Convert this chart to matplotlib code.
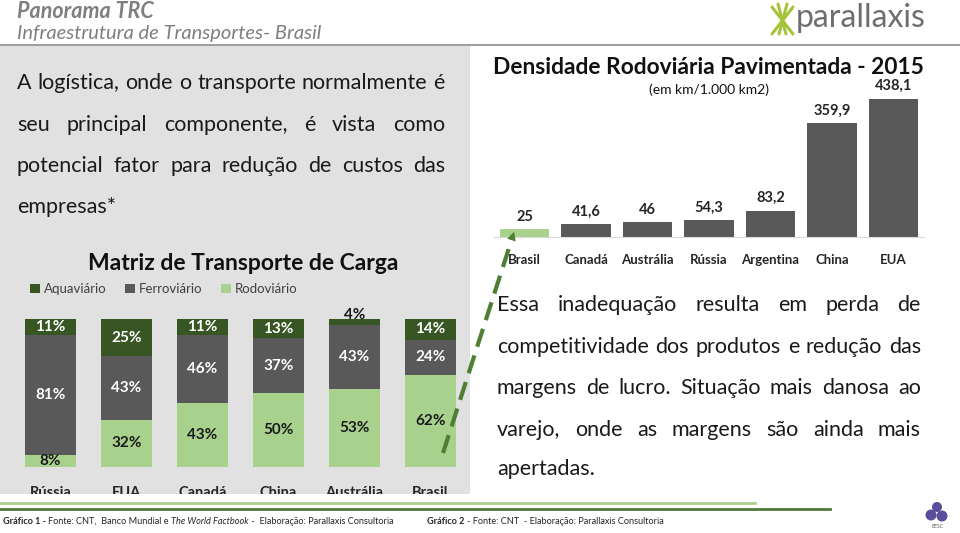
import matplotlib
matplotlib.use('Agg')
import matplotlib.pyplot as plt
from matplotlib.patches import Rectangle, Circle, FancyArrowPatch

# ---------------- data ----------------
matrix_countries = ['Rússia', 'EUA', 'Canadá', 'China', 'Austrália', 'Brasil']
rodoviario = [8, 32, 43, 50, 53, 62]
ferroviario = [81, 43, 46, 37, 43, 24]
aquaviario = [11, 25, 11, 13, 4, 14]

dens_countries = ['Brasil', 'Canadá', 'Austrália', 'Rússia', 'Argentina', 'China', 'EUA']
dens_values = [25, 41.6, 46, 54.3, 83.2, 359.9, 438.1]

left_lines = ["A logística, onde o transporte normalmente é",
              "seu principal componente, é vista como",
              "potencial fator para redução de custos das",
              "empresas*"]
right_lines = ["Essa inadequação resulta em perda de",
               "competitividade dos produtos e redução das",
               "margens de lucro. Situação mais danosa ao",
               "varejo, onde as margens são ainda mais",
               "apertadas."]

# ---------------- style ----------------
FONT = 'Lato'
plt.rcParams['font.family'] = [FONT, 'DejaVu Sans']
C_AQUA = '#375623'
C_FERRO = '#595959'
C_RODO = '#a9d18e'
C_TXT = '#1a1a1a'

W, H = 960, 533
fig = plt.figure(figsize=(9.6, 5.33), dpi=100)
fig.patch.set_facecolor('white')

bg = fig.add_axes([0, 0, 1, 1], zorder=-5)
bg.set_xlim(0, W); bg.set_ylim(H, 0); bg.axis('off')
bg.add_patch(Rectangle((0, 46), 470, 448, color='#e1e1e1', lw=0))


def px_axes(left, top, right, bottom, z=1):
    a = fig.add_axes([left / W, 1 - bottom / H, (right - left) / W, (bottom - top) / H], zorder=z)
    a.patch.set_alpha(0)
    return a

# ---------------- stacked chart ----------------
ax1 = px_axes(12.5, 319, 468.5, 467)
x1 = list(range(len(matrix_countries)))
bw = 0.67
b_r = ax1.bar(x1, rodoviario, bw, color=C_RODO, label='Rodoviário')
bot2 = rodoviario
b_f = ax1.bar(x1, ferroviario, bw, bottom=bot2, color=C_FERRO, label='Ferroviário')
bot3 = [a + b for a, b in zip(rodoviario, ferroviario)]
b_a = ax1.bar(x1, aquaviario, bw, bottom=bot3, color=C_AQUA, label='Aquaviário')
ax1.set_xlim(-0.5, 5.5); ax1.set_ylim(0, 100)
for s in ax1.spines.values():
    s.set_visible(False)
ax1.set_yticks([])
ax1.set_xticks(x1)
ax1.set_xticklabels(matrix_countries, fontsize=10.5, fontweight='bold', color='#262626')
ax1.tick_params(axis='x', length=0, pad=14)
for i in x1:
    ax1.text(i, rodoviario[i] / 2, f'{rodoviario[i]}%', ha='center', va='center',
             fontsize=11, fontweight='bold', color=C_TXT)
    ax1.text(i, bot2[i] + ferroviario[i] / 2, f'{ferroviario[i]}%', ha='center', va='center',
             fontsize=11, fontweight='bold', color='white')
    if aquaviario[i] >= 8:
        ax1.text(i, bot3[i] + aquaviario[i] / 2, f'{aquaviario[i]}%', ha='center', va='center',
                 fontsize=11, fontweight='bold', color='white')
    else:
        ax1.text(i, 100 + 2.5, f'{aquaviario[i]}%', ha='center', va='center',
                 fontsize=11, fontweight='bold', color=C_TXT, clip_on=False)

leg = ax1.legend(handles=[b_a, b_f, b_r], ncol=3, frameon=False, fontsize=9.5,
                 handlelength=0.75, handleheight=0.75, handletextpad=0.3, columnspacing=1.4,
                 loc='center left', bbox_to_anchor=(30 / W, 1 - 289 / H),
                 bbox_transform=fig.transFigure, borderaxespad=0, borderpad=0)
for t in leg.get_texts():
    t.set_color('#404040')

# ---------------- density chart ----------------
ax2 = px_axes(493.75, 60, 924.25, 237)
x2 = list(range(len(dens_countries)))
cols = [C_RODO] + [C_FERRO] * (len(dens_countries) - 1)
ax2.bar(x2, dens_values, 0.8, color=cols)
ax2.set_xlim(-0.5, 6.5); ax2.set_ylim(0, 560)
for k, s in ax2.spines.items():
    s.set_visible(k == 'bottom')
ax2.spines['bottom'].set_color('#d9d9d9')
ax2.set_yticks([])
ax2.set_xticks(x2)
ax2.set_xticklabels(dens_countries, fontsize=9.5, fontweight='bold', color='#262626')
ax2.tick_params(axis='x', length=0, pad=12.5)
for i, v in zip(x2, dens_values):
    lab = (f'{v:g}').replace('.', ',')
    ax2.annotate(lab, (i, v), xytext=(0, 9), textcoords='offset points', ha='center',
                 va='center', fontsize=10.5, fontweight='bold', color='#262626')

# ---------------- overlay ----------------
ov = fig.add_axes([0, 0, 1, 1], zorder=10)
ov.set_xlim(0, W); ov.set_ylim(H, 0); ov.axis('off'); ov.patch.set_alpha(0)
ov.add_patch(Rectangle((0, 494), 480, 40, color='white', lw=0))

# header
ov.text(17, 11, 'Panorama TRC', fontsize=15.5, fontweight='bold', style='italic',
        color='#7f7f7f', va='center')
ov.text(17, 34, 'Infraestrutura de Transportes- Brasil', fontsize=14.5, style='italic',
        color='#7f7f7f', va='center')
ov.plot([0, W], [45, 45], color='#8c8c8c', lw=1.2)

# logo
ov.text(796, 18, 'parallaxis', fontsize=23, color='#6d6e71', va='center', ha='left')
for (xa, ya, xb, yb) in [(772, 7, 793, 34), (793, 7, 772, 34), (778, 4, 786, 34), (787, 4, 779, 34)]:
    ov.plot([xa, xb], [ya, yb], color='#a6c43a', lw=2.2, solid_capstyle='round')

# titles
ov.text(243, 263, 'Matriz de Transporte de Carga', fontsize=16.5, fontweight='bold',
        color='#111111', ha='center', va='center')
ov.text(708, 67, 'Densidade Rodoviária Pavimentada - 2015', fontsize=16.4, fontweight='bold',
        color='#111111', ha='center', va='center')
ov.text(709, 90, '(em km/1.000 km2)', fontsize=10, color='#111111', ha='center', va='center')

renderer = fig.canvas.get_renderer()


def justify(lines, x0, x1, ys, size):
    space = size * 1.389 * 0.25
    for i, (line, y) in enumerate(zip(lines, ys)):
        words = line.split()
        ts = [ov.text(0, y, w, fontsize=size, color=C_TXT, va='center', ha='left') for w in words]
        ws = [t.get_window_extent(renderer).width for t in ts]
        if i == len(lines) - 1 or len(words) == 1:
            gap = space
        else:
            gap = (x1 - x0 - sum(ws)) / (len(words) - 1)
        x = x0
        for t, w in zip(ts, ws):
            t.set_x(x)
            x += w + gap


justify(left_lines, 17, 445, [83, 125, 166, 207], 15.5)
justify(right_lines, 497, 921, [305, 347, 388, 430, 469], 15.5)

# arrow
ov.plot([443, 509], [453, 248], color='#4e7f34', lw=3, dashes=(4.5, 2.2))
ov.add_patch(FancyArrowPatch((508, 251), (515, 229), arrowstyle='-|>', mutation_scale=16,
                             color='#4e7f34', lw=0))

# footer lines
ov.plot([0, 755], [502.5, 502.5], color='#a9d18e', lw=2)
ov.plot([0, 830], [508.5, 508.5], color='#4e7a3a', lw=2)


def runs(x, y, parts, size=6.5):
    for txt, wt, st in parts:
        t = ov.text(x, y, txt, fontsize=size, fontweight=wt, style=st, color='#262626',
                    va='center', ha='left')
        x += t.get_window_extent(renderer).width


runs(3, 521, [('Gráfico 1 - ', 'bold', 'normal'),
              ('Fonte: CNT,  Banco Mundial e ', 'normal', 'normal'),
              ('The World Factbook', 'normal', 'italic'),
              (' -  Elaboração: Parallaxis Consultoria', 'normal', 'normal')], 6.6)
runs(427, 521, [('Gráfico 2 ', 'bold', 'normal'),
                ('- Fonte: CNT  - Elaboração: Parallaxis Consultoria', 'normal', 'normal')], 6.6)

# BESC logo
for (cx, cy, r) in [(937, 507, 5), (931, 515, 5.5), (942, 516, 5.5)]:
    ov.add_patch(Circle((cx, cy), r, color='#5a4e9c', lw=0))
ov.text(937, 526, 'BESC', fontsize=3.5, color='#555555', ha='center', va='center')

fig.savefig('out.png', dpi=100)
